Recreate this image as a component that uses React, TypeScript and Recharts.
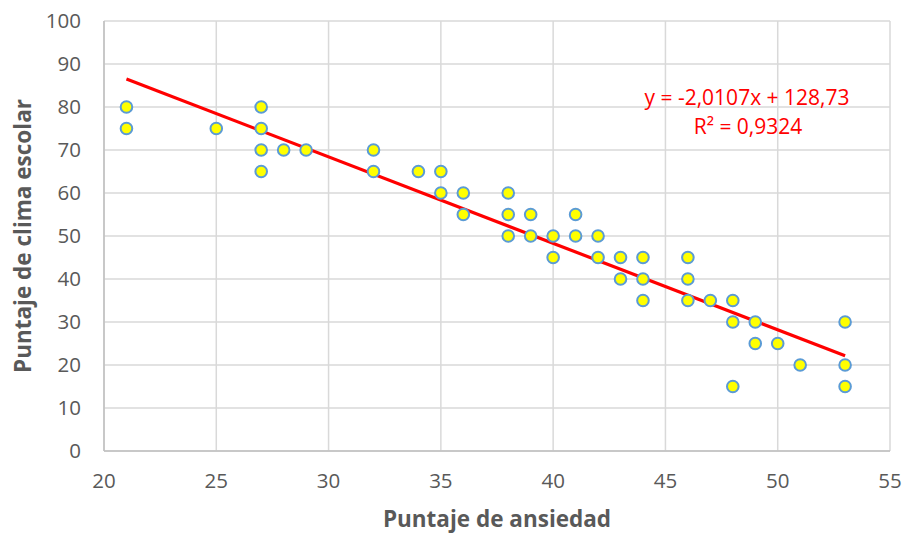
import React from 'react';
import { ScatterChart, Scatter, XAxis, YAxis, CartesianGrid, ReferenceLine, Customized } from 'recharts';

const anxietyScores = [21, 21, 25, 27, 27, 27, 27, 28, 29, 32, 32, 34, 35, 35, 36, 36, 38, 38, 38, 39, 39, 40, 40, 41, 41, 42, 42, 43, 43, 44, 44, 44, 46, 46, 46, 47, 48, 48, 48, 49, 49, 50, 51, 53, 53, 53];
const climateScores = [80, 75, 75, 80, 75, 70, 65, 70, 70, 70, 65, 65, 65, 60, 60, 55, 60, 55, 50, 55, 50, 50, 45, 55, 50, 50, 45, 45, 40, 45, 40, 35, 45, 40, 35, 35, 35, 30, 15, 30, 25, 25, 20, 30, 20, 15];

const xTicks = [20, 25, 30, 35, 40, 45, 50, 55];
const yTicks = [0, 10, 20, 30, 40, 50, 60, 70, 80, 90, 100];

const trendSlope = -2.0107;
const trendIntercept = 128.73;
const trendRange = [21, 53];
const equationLabel = 'y = -2,0107x + 128,73';
const r2Label = 'R² = 0,9324';

const xTitle = 'Puntaje de ansiedad';
const yTitle = 'Puntaje de clima escolar';

const points = anxietyScores.map((x, i) => ({ x, y: climateScores[i] }));
const trendSegment = trendRange.map((x) => ({ x, y: trendSlope * x + trendIntercept }));

const FONT = "'Open Sans', 'Liberation Sans', sans-serif";
const TEXT = '#595959';

const Dot = (props: any) => (
  <circle cx={props.cx} cy={props.cy} r={5.8} fill="#ffff00" stroke="#5b9bd5" strokeWidth={2} />
);

const Equation = () => (
  <g>
    <text x={747} y={105} textAnchor="middle" fill="#ff0000" fontSize={21} fontFamily={FONT}>
      {equationLabel}
    </text>
    <text x={748} y={134} textAnchor="middle" fill="#ff0000" fontSize={21} fontFamily={FONT}>
      {r2Label}
    </text>
  </g>
);

const YTitle = (props: any) => {
  const vb = props.viewBox || { x: 0, y: 21, width: 104, height: 430 };
  const cy = vb.y + vb.height / 2;
  return (
    <text
      x={31}
      y={cy}
      transform={`rotate(-90, 31, ${cy})`}
      textAnchor="middle"
      fill={TEXT}
      fontSize={22.5}
      fontWeight="bold"
      fontFamily={FONT}
    >
      {yTitle}
    </text>
  );
};

export default function App() {
  return (
    <div style={{ position: 'absolute', left: 0, top: 0, width: 904, height: 537, background: '#fff', fontFamily: FONT }}>
      <ScatterChart width={904} height={537} margin={{ top: 21, right: 14, bottom: 0, left: 0 }}>
        <CartesianGrid stroke="#d9d9d9" strokeWidth={1.5} />
        <XAxis
          type="number"
          dataKey="x"
          domain={[20, 55]}
          ticks={xTicks}
          height={86}
          tickSize={0}
          tickMargin={22}
          axisLine={{ stroke: '#bfbfbf', strokeWidth: 1.5 }}
          tick={{ fill: TEXT, fontSize: 20.5, fontFamily: FONT }}
          label={{ value: xTitle, position: 'insideBottom', offset: 10, fill: TEXT, fontSize: 22.5, fontWeight: 'bold', fontFamily: FONT }}
        />
        <YAxis
          type="number"
          dataKey="y"
          domain={[0, 100]}
          ticks={yTicks}
          width={104}
          tickSize={0}
          tickMargin={23}
          axisLine={{ stroke: '#bfbfbf', strokeWidth: 1.5 }}
          tick={{ fill: TEXT, fontSize: 20.5, fontFamily: FONT }}
          label={{ content: YTitle }}
        />
        <Scatter data={points} shape={Dot} isAnimationActive={false} />
        <ReferenceLine
          segment={trendSegment}
          stroke="#ff0000"
          strokeWidth={3.2}
          ifOverflow="visible"
        />
        <Customized component={Equation} />
      </ScatterChart>
    </div>
  );
}
